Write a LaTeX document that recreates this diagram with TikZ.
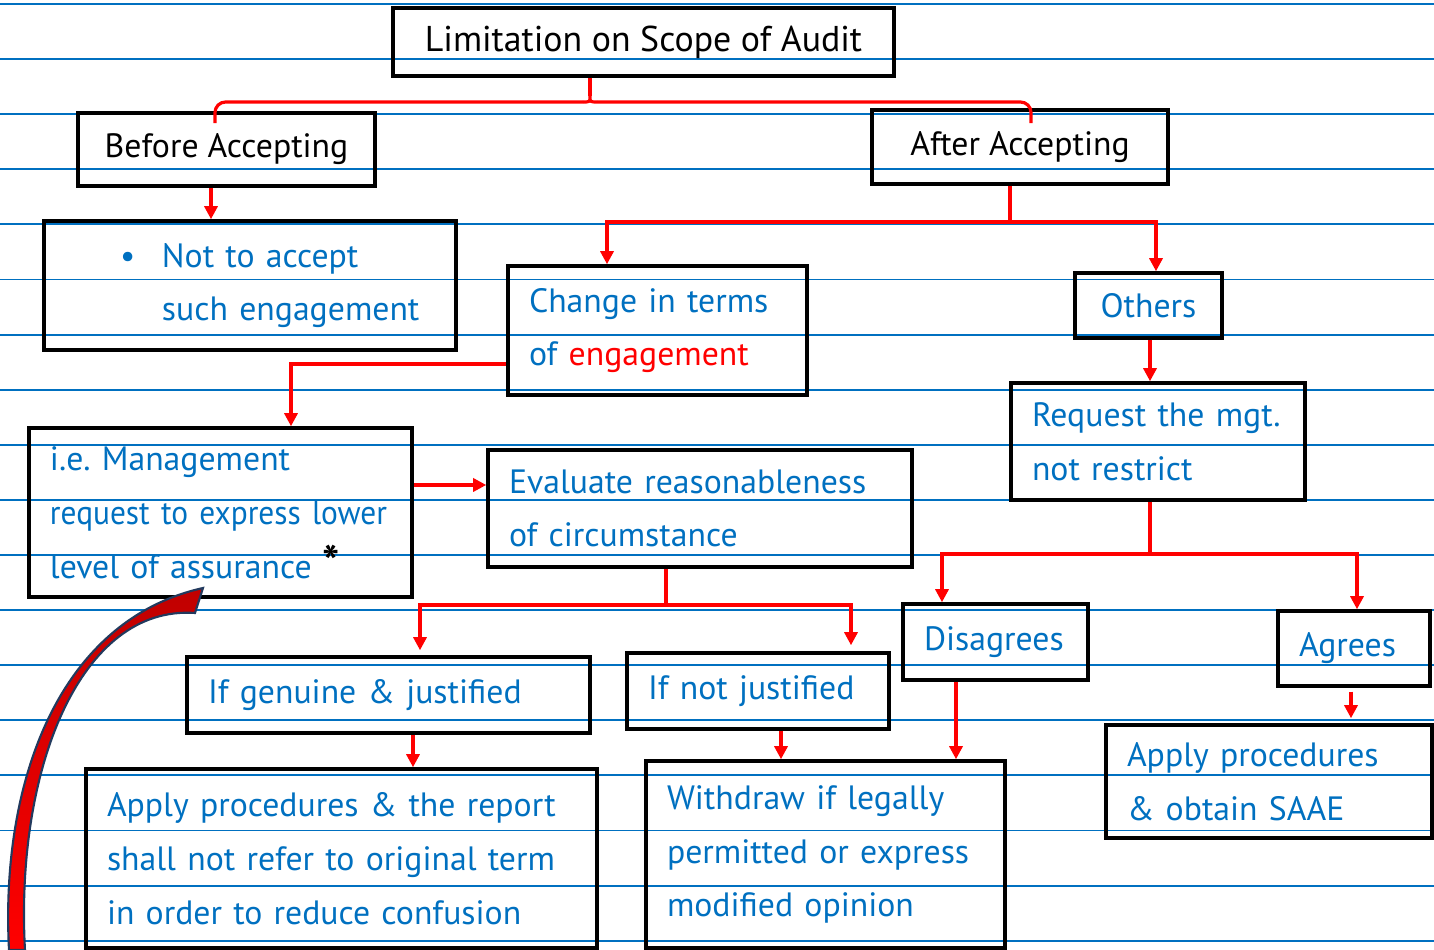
\documentclass[tikz,border=0pt]{standalone}
\usepackage{fontspec}
\setmainfont{PT Sans}
\usepackage{xcolor}
\usetikzlibrary{arrows.meta}

\definecolor{ink}{HTML}{0070C0}
\definecolor{darkred}{HTML}{C00000}
\definecolor{edge}{HTML}{223A5E}

\tikzset{
    box/.style={draw=black, line width=1pt, inner xsep=0.21cm, inner ysep=0pt,
        font=\fontsize{9.6}{15.3}\selectfont},
    head/.style={box, text=black, align=center},
    note/.style={box, text=ink, align=left},
    link/.style={red, line width=0.9pt},
    rule/.style={ink, line width=0.55pt},
    >={Triangle[length=1.3mm, width=1.3mm]}
}

\begin{document}
\begin{tikzpicture}

    \useasboundingbox (0,0) rectangle (14.34,9.50);

    % Ruled paper
    \foreach \k in {0,...,17}
        \draw[rule] (0,{9.46-0.551*\k}) -- (14.34,{9.46-0.551*\k});

    % Top of the tree
    \node[head, font=\fontsize{10.2}{12}\selectfont, minimum width=5.01cm, minimum height=0.68cm] (title) at (6.435,9.08) {Limitation on Scope of Audit};
    \node[head, minimum width=2.97cm, minimum height=0.73cm] (before) at (2.265,8.005) {Before Accepting};
    \node[head, minimum width=2.96cm, minimum height=0.74cm] (after) at (10.20,8.03) {After Accepting};

    % Second row
    \node[note, text width=3.70cm, minimum height=1.29cm] (notacc) at (2.50,6.645)
        {\hspace*{0.55cm}\makebox[0.42cm][l]{\textbullet}Not to accept\\\hspace*{0.97cm}such engagement};
    \node[note, text width=2.57cm, minimum height=1.29cm] (change) at (6.575,6.195)
        {Change in terms\\of \textcolor{red}{engagement}};
    \node[note, align=center, text width=1.05cm, minimum height=0.65cm] (others) at (11.485,6.445) {Others};
    \node[note, text width=2.52cm, minimum height=1.17cm] (request) at (11.58,5.085)
        {Request the mgt.\\not restrict};

    % Lower level of assurance
    \node[note, text width=3.41cm, minimum height=1.69cm] (mgmt) at (2.205,4.375)
        {i.e.\ Management\\\mbox{\addfontfeature{FakeStretch=0.93}request to express lower}\\level of assurance {\color{black}\fontsize{13}{13}\selectfont\bfseries *}};
    \node[note, text width=3.82cm, minimum height=1.17cm] (evaluate) at (7.00,4.415)
        {Evaluate reasonableness\\of circumstance};

    % Outcomes
    \node[note, text width=3.61cm, minimum height=0.76cm] (genuine) at (3.885,2.55) {If genuine \& justified};
    \node[note, text width=2.20cm, minimum height=0.76cm] (notjust) at (7.58,2.59) {If not justified};
    \node[note, text width=1.43cm, minimum height=0.76cm] (disagree) at (9.955,3.08) {Disagrees};
    \node[note, text width=1.10cm, minimum height=0.75cm] (agree) at (13.54,3.015) {Agrees};

    \node[note, text width=4.69cm, minimum height=1.79cm] (applyrep) at (3.415,0.915)
        {Apply procedures \& the report\\shall not refer to original term\\in order to reduce confusion};
    \node[note, text width=3.17cm, minimum height=1.87cm] (withdraw) at (8.255,0.955)
        {Withdraw if legally\\permitted or express\\modified opinion};
    \node[note, text width=2.84cm, minimum height=1.13cm] (saae) at (12.69,1.685)
        {Apply procedures\\\& obtain SAAE};

    % Brace under the title
    \coordinate (fork) at (5.90,8.48);
    \draw[link] (title.south -| fork) -- (5.90,8.54);
    \draw[link] (5.83,8.48) .. controls (5.90,8.48) .. (5.90,8.54) .. controls (5.90,8.48) .. (5.97,8.48);
    \draw[link, rounded corners=3pt] ([yshift=-1.2mm]before.north -| 2.15,0) |- (5.83,8.48);
    \draw[link, rounded corners=3pt] (5.97,8.48) -| ([yshift=-1.5mm]after.north -| 10.31,0);

    \draw[link, ->] (before.south -| 2.11,0) -- (notacc.north -| 2.11,0);

    % After accepting
    \coordinate (split) at (10.10,7.28);
    \draw[link] (after.south -| split) -- (split);
    \draw[link, ->] (split) -| (change.north -| 6.07,0);
    \draw[link, ->] (split) -| (others.north -| 11.56,0);
    \draw[link, ->] (others.south -| 11.50,0) -- (request.north -| 11.50,0);

    \draw[link, ->] (change.west |- 0,5.86) -| (mgmt.north -| 2.91,0);
    \draw[link, ->] (mgmt.east |- 0,4.65) -- (evaluate.west |- 0,4.65);

    \coordinate (judge) at (6.66,3.45);
    \draw[link] (evaluate.south -| judge) -- (judge);
    \draw[link, ->] (judge) -| ([yshift=0.5mm]genuine.north -| 4.20,0);
    \draw[link, ->] (judge) -| ([yshift=0.6mm]notjust.north -| 8.51,0);

    \coordinate (reply) at (11.50,3.96);
    \draw[link] (request.south -| reply) -- (reply);
    \draw[link, ->] (reply) -| (disagree.north -| 9.42,0);
    \draw[link, ->] (reply) -| (agree.north -| 13.57,0);

    \draw[link, ->] (genuine.south -| 4.13,0) -- (applyrep.north -| 4.13,0);
    \draw[link, ->] (notjust.south -| 7.81,0) -- (withdraw.north -| 7.81,0);
    \draw[link, ->] (disagree.south -| 9.56,0) -- (withdraw.north -| 9.56,0);
    \draw[link, ->] ([yshift=-0.4mm]agree.south -| 13.51,0) -- ([yshift=0.5mm]saae.north -| 13.51,0);

    % Curved arrow pointing back at the assurance
    \draw[draw=edge, line width=0.6pt, top color=darkred, bottom color=red]
        (0.09,0.00) .. controls (0.00,1.70) and (0.60,3.30) .. (2.03,3.62)
        -- (1.95,3.37) .. controls (0.80,3.45) and (0.15,1.80) .. (0.25,0.00) -- cycle;

\end{tikzpicture}
\end{document}
